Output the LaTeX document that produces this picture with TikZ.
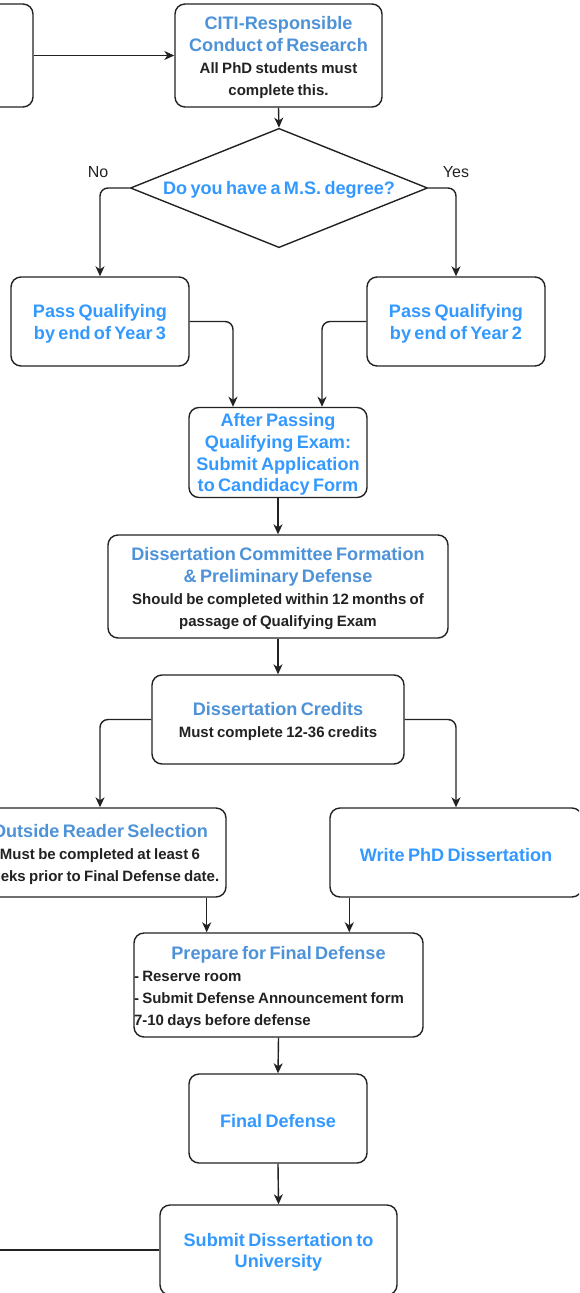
\documentclass[tikz,border=0pt]{standalone}
\usepackage{fontspec}
\setmainfont{Liberation Sans}
\usetikzlibrary{arrows.meta,shapes.geometric}

\definecolor{hdblue}{RGB}{78,146,216}
\definecolor{brblue}{RGB}{51,153,255}
\definecolor{ink}{RGB}{34,34,34}

% heading lines (muted / bright blue) and note lines
\newcommand\topstrut{\rule{0pt}{17.5pt}}
\newcommand\hd[1]{{\fontsize{18.1}{21.6}\selectfont\color{hdblue}\topstrut#1\par}}
\newcommand\hb[1]{{\fontsize{18.1}{21.6}\selectfont\color{brblue}\topstrut#1\par}}
\newcommand\nt[1]{{\fontsize{15}{22}\selectfont\color{ink}#1\par}}

\tikzset{
  stepbox/.style={draw=ink, line width=1.4pt, rounded corners=10pt, fill=white,
    align=center, inner sep=2pt, font=\bfseries},
  flow/.style={draw=ink, line width=1.4pt, rounded corners=8pt,
    -{Stealth[length=10pt,width=9pt,inset=3pt]}},
  plain/.style={draw=ink, line width=1.4pt},
}

\begin{document}
\begin{tikzpicture}[x=1pt,y=-1pt]
\useasboundingbox (0,0) rectangle (579,1293);
\clip (0,0) rectangle (579,1293);

% top row
\node[stepbox, minimum width=200pt, minimum height=103pt] (startbox) at (-67,55.5) {};
\node[stepbox, minimum width=207pt, minimum height=103pt, text width=203pt] (citi) at (278.5,55.5)
  {\hd{CITI-Responsible\\Conduct of Research}\nt{All PhD students must\\complete this.}};

% decision
\node[shape=diamond, draw=ink, line width=1.4pt, aspect=2.49, inner sep=0pt,
  minimum width=294pt, minimum height=118pt, text width=244pt, align=center, font=\bfseries]
  (decide) at (279,188) {\hb{Do you have a M.S. degree?}};

\node[stepbox, minimum width=178pt, minimum height=89pt, text width=174pt] (pq3) at (100,321.5)
  {\hb{Pass Qualifying\\by end of Year 3}};
\node[stepbox, minimum width=178pt, minimum height=89pt, text width=174pt] (pq2) at (456,321.5)
  {\hb{Pass Qualifying\\by end of Year 2}};

\node[stepbox, minimum width=178pt, minimum height=89pt, text width=174pt] (after) at (278,452.5)
  {\hb{After Passing\\Qualifying Exam:\\Submit Application\\to Candidacy Form}};

\node[stepbox, minimum width=340pt, minimum height=103pt, text width=336pt] (committee) at (278,586.5)
  {\hd{Dissertation Committee Formation\\\& Preliminary Defense}\nt{Should be completed within 12 months of\\passage of Qualifying Exam}};

\node[stepbox, minimum width=252pt, minimum height=89pt, text width=248pt] (credits) at (278,719.5)
  {\hd{Dissertation Credits}\nt{Must complete 12-36 credits}};

\node[stepbox, minimum width=252pt, minimum height=89pt, text width=248pt] (reader) at (100,852.5)
  {\hd{Outside Reader Selection}\nt{Must be completed at least 6\\weeks prior to Final Defense date.}};
\node[stepbox, minimum width=252pt, minimum height=89pt, text width=248pt] (write) at (456,852.5)
  {\hb{Write PhD Dissertation}};

\node[stepbox, minimum width=289pt, minimum height=104pt, text width=289pt, inner xsep=0pt, align=left]
  (prepare) at (278.5,985)
  {{\fontsize{18.1}{21.6}\selectfont\color{hdblue}\makebox[289pt]{\topstrut Prepare for Final Defense}\par}%
   \nt{- Reserve room\\- Submit Defense Announcement form\\7-10 days before defense}};

\node[stepbox, minimum width=178pt, minimum height=89pt, text width=174pt] (final) at (278,1118.5)
  {\hb{Final Defense}};

\node[stepbox, minimum width=237pt, minimum height=90pt, text width=233pt] (submit) at (278.5,1250)
  {\hb{Submit Dissertation to\\University}};
\coordinate (offleft) at (-10,1250);

% connectors
\draw[flow] (startbox.east) -- (citi.west);
\draw[flow] (citi.south) -- (decide.north);
\draw[flow] (decide.west) -| node[pos=0.5, above=6pt, font=\fontsize{16}{19}\selectfont, text=ink, xshift=-2pt] {No} (pq3.north);
\draw[flow] (decide.east) -| node[pos=0.5, above=6pt, font=\fontsize{16}{19}\selectfont, text=ink] {Yes} (pq2.north);
\draw[flow] (pq3.east) -| ([xshift=-45pt]after.north);
\draw[flow] (pq2.west) -| ([xshift=44pt]after.north);
\draw[flow] (after.south) -- (committee.north);
\draw[flow] (committee.south) -- (credits.north);
\draw[flow] (credits.west) -| (reader.north);
\draw[flow] (credits.east) -| (write.north);
\draw[flow] ([xshift=-20pt]reader.south east) -- ([xshift=-20pt]reader.south east |- prepare.north);
\draw[flow] ([xshift=20pt]write.south west) -- ([xshift=20pt]write.south west |- prepare.north);
\draw[flow] (prepare.south) -- (final.north);
\draw[flow] (final.south) -- (submit.north);
\draw[plain] (submit.west) -- (offleft);
\end{tikzpicture}
\end{document}
